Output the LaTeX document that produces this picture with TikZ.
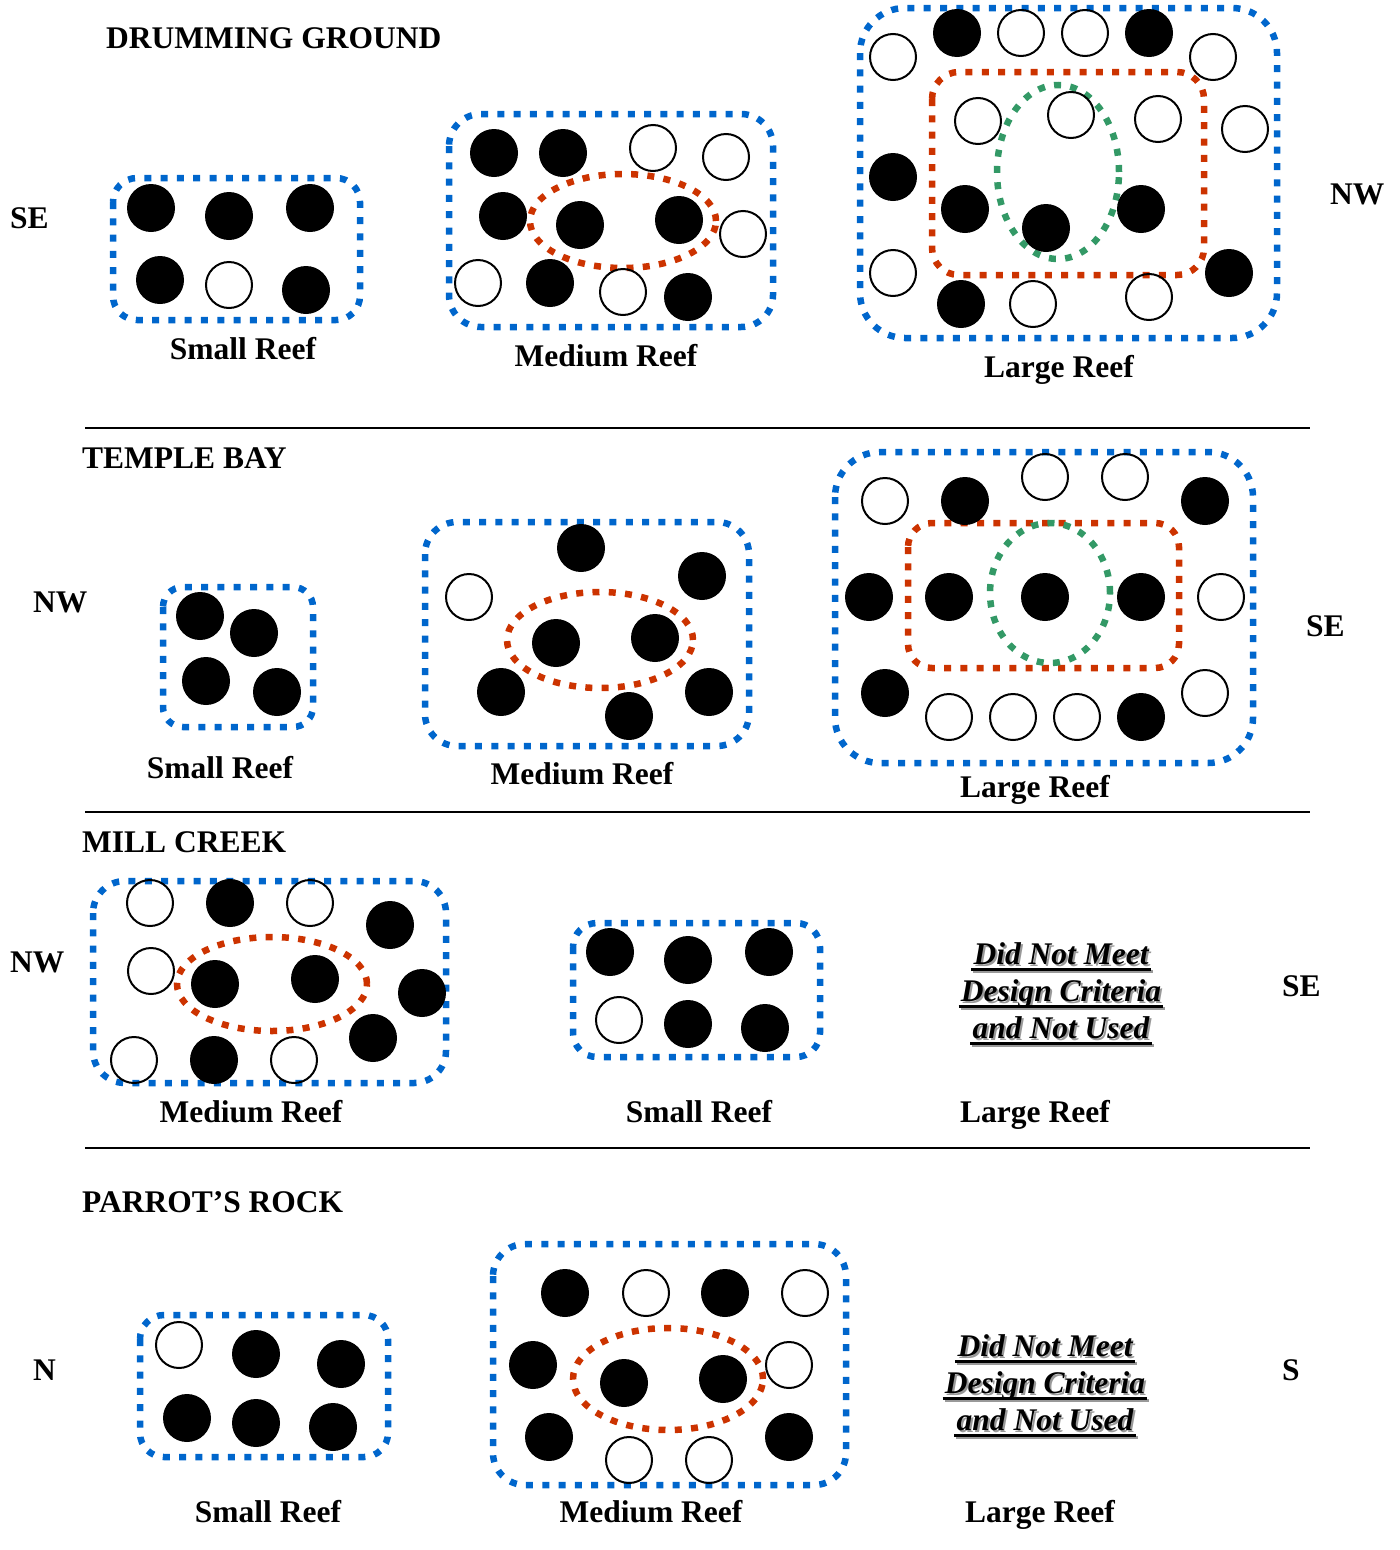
\documentclass[tikz,border=0pt]{standalone}
\usepackage{fontspec}
\setmainfont{Liberation Serif}
\definecolor{reefblue}{HTML}{0066CC}
\definecolor{reefred}{HTML}{CC3300}
\definecolor{reefgreen}{HTML}{339966}
\newcommand\Bc[3]{\node[blk] (#1) at (#2,#3) {};}
\newcommand\Wc[3]{\node[opn] (#1) at (#2,#3) {};}
\newcommand\Dnm[4]{%
  \node[dnmshadow] at (#2+2,#3+2) {#4};
  \node[dnm] (#1) at (#2,#3) {#4};
  \draw[line width=3pt,gray!80] ([xshift=0pt,yshift=-7pt]#1.base west) -- ([xshift=4pt,yshift=-7pt]#1.base east);
  \draw[line width=3pt,black] ([xshift=-2pt,yshift=-5pt]#1.base west) -- ([xshift=2pt,yshift=-5pt]#1.base east);
}
\begin{document}
\begin{tikzpicture}[x=1pt,y=-1pt,
  blk/.style={circle,fill=black,minimum size=48pt,inner sep=0pt},
  opn/.style={circle,draw=black,line width=2pt,minimum size=46pt,inner sep=0pt},
  dotline/.style={line width=6.5pt,dash pattern=on 7pt off 9.3pt},
  bluebox/.style={dotline,draw=reefblue},
  redline/.style={dotline,draw=reefred},
  greenline/.style={dotline,draw=reefgreen},
  txt/.style={font=\bfseries\fontsize{31.5}{37}\selectfont,inner sep=0pt,anchor=base},
  ttl/.style={txt,anchor=base west},
  dnm/.style={font=\bfseries\itshape\fontsize{31.5}{37}\selectfont,inner sep=0pt,anchor=base},
  dnmshadow/.style={dnm,text=gray!80},
  divider/.style={line width=1.5pt,draw=black}]
\useasboundingbox (0,0) rectangle (1400,1550);

% ---------------- DRUMMING GROUND ----------------
\node[ttl] (dgt) at (106,48) {DRUMMING GROUND};
\node[ttl] (dgse) at (10,228) {SE};
\node[ttl] (dgnw) at (1330,204) {NW};
% small
\draw[bluebox,rounded corners=24pt] (113,178) rectangle (360,320);
\Bc{dgs1}{151}{208}\Bc{dgs2}{229}{216}\Bc{dgs3}{310}{208}
\Bc{dgs4}{160}{280}\Wc{dgs5}{229}{285}\Bc{dgs6}{306}{290}
\node[txt] (dgsl) at (243,359) {Small Reef};
% medium
\draw[bluebox,rounded corners=32pt] (449,114) rectangle (773,327);
\draw[redline] (623,221) ellipse [x radius=93pt, y radius=47pt];
\Bc{dgm1}{494}{153}\Bc{dgm2}{563}{153}\Wc{dgm3}{653}{148}\Wc{dgm4}{726}{157}
\Bc{dgm5}{503}{216}\Bc{dgm6}{580}{225}\Bc{dgm7}{679}{220}\Wc{dgm8}{743}{234}
\Wc{dgm9}{478}{283}\Bc{dgm10}{550}{283}\Wc{dgm11}{623}{292}\Bc{dgm12}{688}{297}
\node[txt] (dgml) at (606,366) {Medium Reef};
% large
\draw[bluebox,rounded corners=45pt] (860,8) rectangle (1277,338);
\draw[redline,rounded corners=27pt] (932,72) rectangle (1204,275);
\draw[greenline] (1058,172) ellipse [x radius=61pt, y radius=87pt];
\Wc{dgl1}{893}{57}\Bc{dgl2}{957}{33}\Wc{dgl3}{1021}{33}\Wc{dgl4}{1085}{33}\Bc{dgl5}{1149}{33}\Wc{dgl6}{1213}{57}
\Wc{dgl7}{978}{121}\Wc{dgl8}{1071}{115}\Wc{dgl9}{1158}{119}\Wc{dgl10}{1245}{129}
\Bc{dgl11}{893}{177}\Bc{dgl12}{965}{209}\Bc{dgl13}{1046}{228}\Bc{dgl14}{1141}{209}
\Wc{dgl15}{893}{273}\Bc{dgl16}{1229}{273}
\Bc{dgl17}{961}{304}\Wc{dgl18}{1033}{304}\Wc{dgl19}{1149}{297}
\node[txt] (dgll) at (1059,377) {Large Reef};

\coordinate (d1a) at (85,428); \coordinate (d1b) at (1310,428);
\draw[divider] (d1a) -- (d1b);

% ---------------- TEMPLE BAY ----------------
\node[ttl] (tbt) at (82,468) {TEMPLE BAY};
\node[ttl] (tbnw) at (33,612) {NW};
\node[ttl] (tbse) at (1306,636) {SE};
% small
\draw[bluebox,rounded corners=20pt] (163,587) rectangle (313,727);
\Bc{tbs1}{200}{616}\Bc{tbs2}{254}{633}\Bc{tbs3}{206}{681}\Bc{tbs4}{277}{692}
\node[txt] (tbsl) at (220,778) {Small Reef};
% medium
\draw[bluebox,rounded corners=32pt] (425,522) rectangle (749,746);
\draw[redline] (600,640) ellipse [x radius=93pt, y radius=48pt];
\Bc{tbm1}{581}{548}\Bc{tbm2}{702}{576}\Wc{tbm3}{469}{597}
\Bc{tbm4}{556}{643}\Bc{tbm5}{655}{638}
\Bc{tbm6}{501}{692}\Bc{tbm7}{709}{692}\Bc{tbm8}{629}{716}
\node[txt] (tbml) at (582,784) {Medium Reef};
% large
\draw[bluebox,rounded corners=45pt] (835,452) rectangle (1253,763);
\draw[redline,rounded corners=24pt] (908,523) rectangle (1179,668);
\draw[greenline] (1050,593) ellipse [x radius=60pt, y radius=70pt];
\Wc{tbl1}{885}{501}\Bc{tbl2}{965}{501}\Wc{tbl3}{1045}{477}\Wc{tbl4}{1125}{477}\Bc{tbl5}{1205}{501}
\Bc{tbl6}{869}{597}\Bc{tbl7}{949}{597}\Bc{tbl8}{1045}{597}\Bc{tbl9}{1141}{597}\Wc{tbl10}{1221}{597}
\Bc{tbl11}{885}{693}\Wc{tbl12}{949}{717}\Wc{tbl13}{1013}{717}\Wc{tbl14}{1077}{717}\Bc{tbl15}{1141}{717}\Wc{tbl16}{1205}{693}
\node[txt] (tbll) at (1035,797) {Large Reef};

\coordinate (d2a) at (85,812); \coordinate (d2b) at (1310,812);
\draw[divider] (d2a) -- (d2b);

% ---------------- MILL CREEK ----------------
\node[ttl] (mct) at (82,852) {MILL CREEK};
\node[ttl] (mcnw) at (10,972) {NW};
\node[ttl] (mcse) at (1282,996) {SE};
% medium
\draw[bluebox,rounded corners=32pt] (93,881) rectangle (446,1083);
\draw[redline] (272,984) ellipse [x radius=95pt, y radius=47pt];
\Wc{mcm1}{150}{903}\Bc{mcm2}{230}{903}\Wc{mcm3}{310}{903}\Bc{mcm4}{390}{925}
\Wc{mcm5}{151}{971}\Bc{mcm6}{215}{984}\Bc{mcm7}{315}{979}\Bc{mcm8}{422}{993}
\Bc{mcm9}{373}{1038}\Wc{mcm10}{134}{1060}\Bc{mcm11}{214}{1060}\Wc{mcm12}{294}{1060}
\node[txt] (mcml) at (251,1122) {Medium Reef};
% small
\draw[bluebox,rounded corners=24pt] (573,923) rectangle (820,1057);
\Bc{mcs1}{610}{952}\Bc{mcs2}{688}{960}\Bc{mcs3}{769}{952}
\Wc{mcs4}{619}{1020}\Bc{mcs5}{688}{1024}\Bc{mcs6}{765}{1028}
\node[txt] (mcsl) at (699,1122) {Small Reef};
% large (not used)
\Dnm{mcd1}{1061}{964}{Did Not Meet}
\Dnm{mcd2}{1061}{1001}{Design Criteria}
\Dnm{mcd3}{1061}{1038}{and Not Used}
\node[txt] (mcll) at (1035,1122) {Large Reef};

\coordinate (d3a) at (85,1148); \coordinate (d3b) at (1310,1148);
\draw[divider] (d3a) -- (d3b);

% ---------------- PARROT'S ROCK ----------------
\node[ttl] (prt) at (82,1212) {PARROT’S ROCK};
\node[ttl] (prn) at (33,1380) {N};
\node[ttl] (prs) at (1282,1380) {S};
% small
\draw[bluebox,rounded corners=24pt] (140,1315) rectangle (388,1457);
\Wc{prs1}{179}{1345}\Bc{prs2}{256}{1354}\Bc{prs3}{341}{1364}
\Bc{prs4}{187}{1418}\Bc{prs5}{256}{1423}\Bc{prs6}{333}{1427}
\node[txt] (prsl) at (268,1522) {Small Reef};
% medium
\draw[bluebox,rounded corners=32pt] (493,1244) rectangle (846,1485);
\draw[redline] (668,1379) ellipse [x radius=95pt, y radius=51pt];
\Bc{prm1}{565}{1293}\Wc{prm2}{646}{1293}\Bc{prm3}{725}{1293}\Wc{prm4}{805}{1293}
\Bc{prm5}{533}{1365}\Bc{prm6}{624}{1383}\Bc{prm7}{723}{1379}\Wc{prm8}{789}{1365}
\Bc{prm9}{549}{1437}\Wc{prm10}{629}{1460}\Wc{prm11}{709}{1460}\Bc{prm12}{789}{1437}
\node[txt] (prml) at (651,1522) {Medium Reef};
% large (not used)
\Dnm{prd1}{1045}{1356}{Did Not Meet}
\Dnm{prd2}{1045}{1393}{Design Criteria}
\Dnm{prd3}{1045}{1430}{and Not Used}
\node[txt] (prll) at (1040,1522) {Large Reef};
\end{tikzpicture}
\end{document}
